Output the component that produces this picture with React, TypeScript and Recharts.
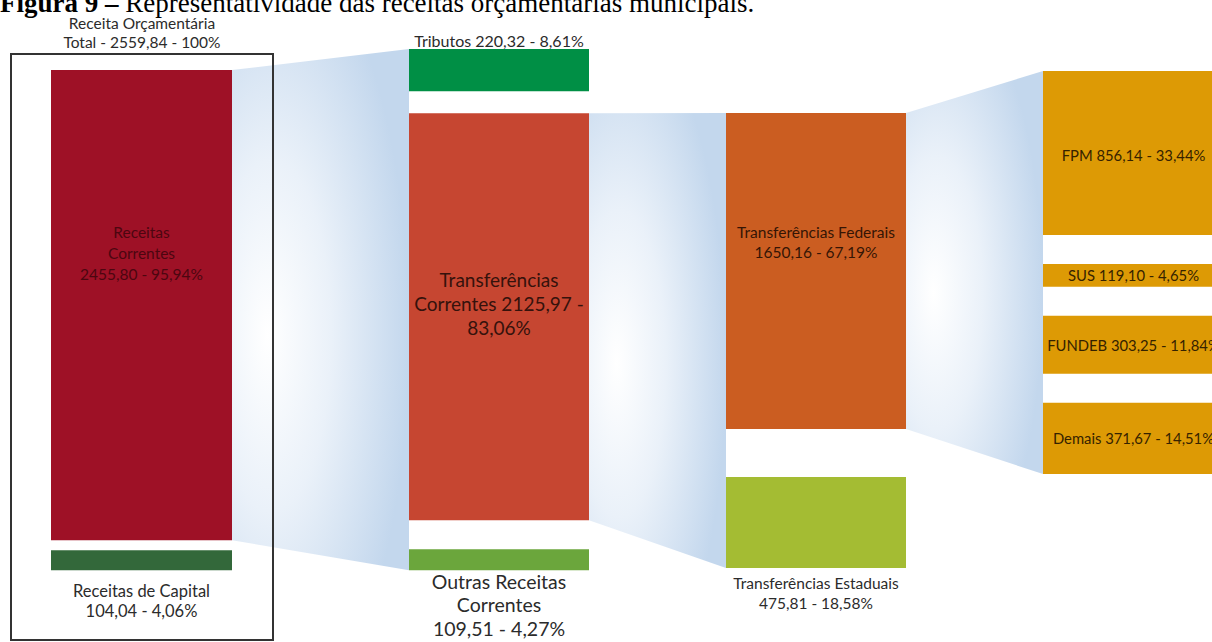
import React from "react";
import { ComposedChart, XAxis, YAxis, Area, ReferenceArea } from "recharts";

// ---------------- DATA ----------------
const TITLE_BOLD = "Figura 9 –";
const TITLE_TEXT = " Representatividade das receitas orçamentárias municipais.";

const totalName = "Receita Orçamentária";
const totalValue = 2559.84;
const totalPct = "100";

const col1Names = ["Receitas Correntes", "Receitas de Capital"];
const col1Values = [2455.8, 104.04];
const col1Pcts = ["95,94", "4,06"];

const col2Names = ["Tributos", "Transferências Correntes", "Outras Receitas Correntes"];
const col2Values = [220.32, 2125.97, 109.51];
const col2Pcts = ["8,61", "83,06", "4,27"];

const col3Names = ["Transferências Federais", "Transferências Estaduais"];
const col3Values = [1650.16, 475.81];
const col3Pcts = ["67,19", "18,58"];

const col4Names = ["FPM", "SUS", "FUNDEB", "Demais"];
const col4Values = [856.14, 119.1, 303.25, 371.67];
const col4Pcts = ["33,44", "4,65", "11,84", "14,51"];

// ---------------- LAYOUT / STYLE ----------------
const W = 1212;
const H = 642;
const PX_PER_UNIT = 0.1915;
const Y_MAX = H / PX_PER_UNIT;
const u = (px: number) => px / PX_PER_UNIT; // layout offsets expressed in value units

const FONT = "Lato, 'Open Sans', sans-serif";

type LabelSpec = {
  pos: "inside" | "above" | "below";
  breaks: number[];
  size: number;
  lh: number;
  off: number;
  color: string;
};

type ColLayout = {
  x0: number;
  x1: number;
  top: number; // px
  gaps: number[]; // px
  colors: string[];
  labels: LabelSpec[];
};

const DARK = "#2b2b2b";
const COL4_TEXT = "#352200";

const layouts: ColLayout[] = [
  {
    x0: 51, x1: 232, top: 70, gaps: [10],
    colors: ["#9e1126", "#33683a"],
    labels: [
      { pos: "inside", breaks: [1, 1, 3], size: 15.5, lh: 21, off: -52, color: "#4c0610" },
      { pos: "below", breaks: [3, 3], size: 16.5, lh: 20, off: 21, color: DARK },
    ],
  },
  {
    x0: 409, x1: 589, top: 49, gaps: [22, 29],
    colors: ["#008f45", "#c64631", "#6ba63c"],
    labels: [
      { pos: "above", breaks: [4], size: 16, lh: 20, off: 9, color: DARK },
      { pos: "inside", breaks: [1, 3, 1], size: 19, lh: 24, off: -13, color: "#35120c" },
      { pos: "below", breaks: [2, 1, 3], size: 19.5, lh: 23.5, off: 11, color: DARK },
    ],
  },
  {
    x0: 726, x1: 906, top: 113, gaps: [48],
    colors: ["#cb5d21", "#a4bc33"],
    labels: [
      { pos: "inside", breaks: [2, 3], size: 15.5, lh: 20, off: -29, color: "#351505" },
      { pos: "below", breaks: [2, 3], size: 15.5, lh: 20, off: 15, color: DARK },
    ],
  },
  {
    x0: 1043, x1: 1224, top: 71, gaps: [29, 29, 29],
    colors: ["#dd9a05", "#dd9a05", "#dd9a05", "#dd9a05"],
    labels: [
      { pos: "inside", breaks: [4], size: 14.8, lh: 20, off: 2, color: COL4_TEXT },
      { pos: "inside", breaks: [4], size: 14.8, lh: 20, off: 0, color: COL4_TEXT },
      { pos: "inside", breaks: [4], size: 14.8, lh: 20, off: 0, color: COL4_TEXT },
      { pos: "inside", breaks: [4], size: 14.8, lh: 20, off: 0, color: COL4_TEXT },
    ],
  },
];

const BOX = { x0: 11, x1: 273, top: 54, bottom: 640 };

// ---------------- BUILD ----------------
const fmt = (v: number) => v.toFixed(2).replace(".", ",");

type Node = {
  name: string;
  value: number;
  pct: string;
  y0: number;
  y1: number;
  x0: number;
  x1: number;
  color: string;
  label: LabelSpec;
};

const columnsData = [
  { names: col1Names, values: col1Values, pcts: col1Pcts },
  { names: col2Names, values: col2Values, pcts: col2Pcts },
  { names: col3Names, values: col3Values, pcts: col3Pcts },
  { names: col4Names, values: col4Values, pcts: col4Pcts },
];

const columns: Node[][] = columnsData.map((c, ci) => {
  const L = layouts[ci];
  let y = u(L.top);
  return c.values.map((v, i) => {
    if (i > 0) y += u(L.gaps[i - 1]);
    const node: Node = {
      name: c.names[i],
      value: v,
      pct: c.pcts[i],
      y0: y,
      y1: y + v,
      x0: L.x0,
      x1: L.x1,
      color: L.colors[i],
      label: L.labels[i],
    };
    y += v;
    return node;
  });
});

const colSpan = (ci: number): [number, number] => [columns[ci][0].y0, columns[ci][columns[ci].length - 1].y1];
const nodeSpan = (n: Node): [number, number] => [n.y0, n.y1];

// flows: parent node (right edge) -> whole next column (left edge)
const flowRows = [
  { x: layouts[0].x1, f1: nodeSpan(columns[0][0]) },
  { x: layouts[1].x0, f1: colSpan(1) },
  { x: layouts[1].x1, f2: nodeSpan(columns[1][1]) },
  { x: layouts[2].x0, f2: colSpan(2) },
  { x: layouts[2].x1, f3: nodeSpan(columns[2][0]) },
  { x: layouts[3].x0, f3: colSpan(3) },
];

const splitLines = (text: string, breaks: number[]) => {
  const words = text.split(" ");
  const out: string[] = [];
  let k = 0;
  for (const b of breaks) {
    out.push(words.slice(k, k + b).join(" "));
    k += b;
  }
  return out;
};

const makeLabel = (lines: string[], spec: LabelSpec) => (props: any) => {
  const vb = props.viewBox || {};
  const x = Number(vb.x) || 0;
  const y = Number(vb.y) || 0;
  const width = Number(vb.width) || 0;
  const height = Number(vb.height) || 0;
  const cx = x + width / 2;
  const n = lines.length;
  let first: number;
  if (spec.pos === "inside") first = y + height / 2 + spec.off - ((n - 1) * spec.lh) / 2;
  else if (spec.pos === "below") first = y + height + spec.off;
  else first = y - spec.off - (n - 1) * spec.lh;
  return (
    <g>
      {lines.map((l, i) => (
        <text
          key={i}
          x={cx}
          y={first + i * spec.lh}
          textAnchor="middle"
          dominantBaseline="central"
          fontFamily={FONT}
          fontSize={spec.size}
          fill={spec.color}
        >
          {l}
        </text>
      ))}
    </g>
  );
};

const totalLines = [totalName, `Total - ${fmt(totalValue)} - ${totalPct}%`];
const totalSpec: LabelSpec = { pos: "above", breaks: [], size: 15.5, lh: 19, off: 12, color: DARK };

export default function App() {
  return (
    <div style={{ position: "absolute", left: 0, top: 0, width: W, height: H, overflow: "hidden", background: "#fff" }}>
      <ComposedChart width={W} height={H} data={flowRows} margin={{ top: 0, right: 0, bottom: 0, left: 0 }}>
        <defs>
          <radialGradient id="flowGrad" cx="0.25" cy="0.55" r="0.75" fx="0.2" fy="0.55">
            <stop offset="0%" stopColor="#ffffff" />
            <stop offset="45%" stopColor="#eaf1f9" />
            <stop offset="100%" stopColor="#c3d7ed" />
          </radialGradient>
        </defs>
        <XAxis type="number" dataKey="x" domain={[0, W]} hide allowDataOverflow />
        <YAxis type="number" domain={[0, Y_MAX]} reversed hide allowDataOverflow />
        {["f1", "f2", "f3"].map((k) => (
          <Area
            key={k}
            type="linear"
            dataKey={k}
            stroke="none"
            fill="url(#flowGrad)"
            fillOpacity={1}
            isAnimationActive={false}
            dot={false}
            activeDot={false}
          />
        ))}
        <ReferenceArea
          x1={BOX.x0}
          x2={BOX.x1}
          y1={u(BOX.top)}
          y2={u(BOX.bottom)}
          fill="none"
          fillOpacity={0}
          stroke="#333"
          strokeWidth={2}
          ifOverflow="visible"
          label={makeLabel(totalLines, totalSpec)}
        />
        {columns.flat().map((n, i) => (
          <ReferenceArea
            key={i}
            x1={n.x0}
            x2={n.x1}
            y1={n.y0}
            y2={n.y1}
            fill={n.color}
            fillOpacity={1}
            stroke="none"
            ifOverflow="visible"
            label={makeLabel(splitLines(`${n.name} ${fmt(n.value)} - ${n.pct}%`, n.label.breaks), n.label)}
          />
        ))}
      </ComposedChart>
      <svg width={W} height={30} style={{ position: "absolute", left: 0, top: 0 }}>
        <text x={0} y={11.5} fontFamily="'Liberation Serif', 'Times New Roman', serif" fontSize={27} fill="#000">
          <tspan fontWeight="bold">{TITLE_BOLD}</tspan>
          <tspan>{TITLE_TEXT}</tspan>
        </text>
      </svg>
    </div>
  );
}
